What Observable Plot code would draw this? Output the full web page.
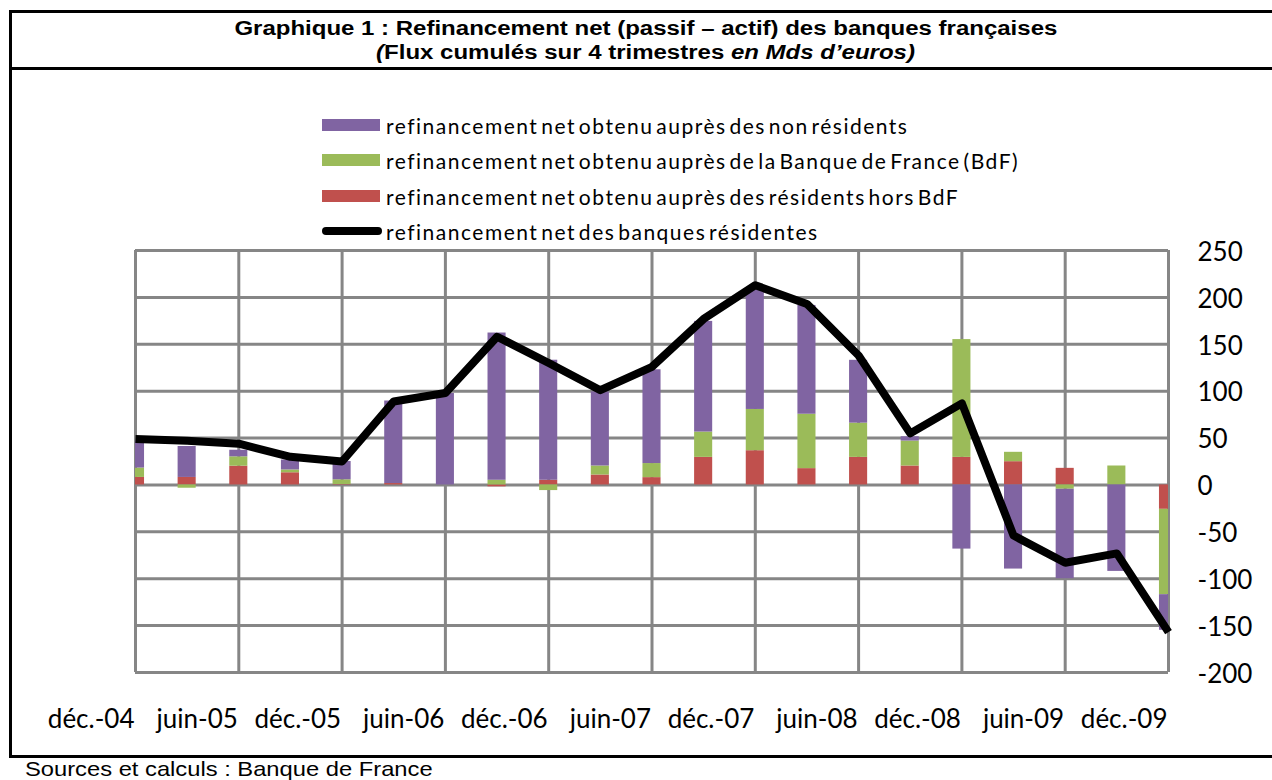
<!DOCTYPE html>
<html><head><meta charset="utf-8">
<script src="https://cdn.jsdelivr.net/npm/d3@7"></script>
<script src="https://cdn.jsdelivr.net/npm/@observablehq/plot@0.6"></script>
<style>
body{margin:0;background:#fff;}
#wrap{position:relative;width:1272px;height:780px;overflow:hidden;background:#fff;}
#plot{position:absolute;left:0;top:0;}
.box{position:absolute;left:9px;top:10px;width:1300px;height:748px;border:3px solid #000;box-sizing:border-box;}
.divider{position:absolute;left:9px;top:67px;width:1300px;height:3px;background:#000;}
.title{position:absolute;left:9px;top:16px;width:1274px;text-align:center;font:bold 20px "Liberation Sans",Arial,sans-serif;line-height:24px;color:#000;}
.title span{display:inline-block;transform:scaleX(1.2);transform-origin:center;white-space:nowrap;}
.caption{position:absolute;left:25px;top:758px;font:21px "Liberation Sans",Arial,sans-serif;line-height:1;color:#000;white-space:nowrap;transform:scaleX(1.13);transform-origin:left;}
.legrow{position:absolute;left:322px;height:30px;display:flex;align-items:center;font:21px Lato,sans-serif;letter-spacing:1.5px;word-spacing:-4px;color:#000;white-space:nowrap;}
.sw{width:58px;height:12px;margin-right:6px;}
.swl{width:60px;height:8px;border-radius:4px;background:#000;margin-right:4px;}
</style></head><body>
<div id="wrap">
  <div id="plot"></div>
  <div class="box"></div>
  <div class="divider"></div>
  <div class="title"><span>Graphique 1 : Refinancement net (passif – actif) des banques françaises</span><br><span><i>(</i>Flux cumulés sur 4 trimestres <i>en Mds d’euros)</i></span></div>
  <div id="legend"></div>
  <div class="caption">Sources et calculs : Banque de France</div>
</div>
<script>
// Quarterly points, déc.-04 … déc.-09
const quarters = ["déc.-04","mars-05","juin-05","sept.-05","déc.-05","mars-06","juin-06","sept.-06","déc.-06","mars-07","juin-07","sept.-07","déc.-07","mars-08","juin-08","sept.-08","déc.-08","mars-09","juin-09","sept.-09","déc.-09"];
const tickLabels = ["déc.-04","juin-05","déc.-05","juin-06","déc.-06","juin-07","déc.-07","juin-08","déc.-08","juin-09","déc.-09"];
const yTicks = [-200,-150,-100,-50,0,50,100,150,200,250];

const seriesNames = [
  "refinancement net obtenu auprès des non résidents",
  "refinancement net obtenu auprès de la Banque de France (BdF)",
  "refinancement net obtenu auprès des résidents hors BdF"
];
const lineName = "refinancement net des banques résidentes";
const seriesColors = ["#8064A2", "#9BBB59", "#C0504D"];

const nonResidents     = [29, 33, 7, 10.6, 19.5, 88, 97.5, 157, 128, 79, 100, 118, 127, 116, 67, 4.6, -68.4, -89.7, -95.4, -92.2, -38];
const banqueDeFrance   = [10, -3.5, 10, 3, 5, 0, 0, 5, -6, 9.6, 15, 27, 44, 58, 36.5, 26.6, 125.6, 10, -4.6, 20.2, -91];
const residentsHorsBdf = [8, 8, 20, 13, 0.5, 1.5, 0, -2, 5, 10.6, 7.8, 29.4, 36.5, 17.4, 29.4, 20.2, 29.4, 24.8, 17.7, 0, -26];
const totalNet         = [49, 47, 44, 30, 25, 89, 98, 158, 130, 101, 126, 177, 213, 193, 138, 55, 87, -54, -83, -73, -157];

const seriesValues = [nonResidents, banqueDeFrance, residentsHorsBdf];
const bars = [];
// stacking order from zero outward: résidents hors BdF, BdF, non résidents
[2, 1, 0].forEach(s => quarters.forEach((q, i) => bars.push({i, q, series: seriesNames[s], value: seriesValues[s][i]})));
const lineData = quarters.map((q, i) => ({i, q, value: totalNet[i]}));
const gridX = tickLabels.map((t, k) => k * 2);

const W = 1272, H = 757;
const font = "Lato, sans-serif";
const chart = Plot.plot({
  width: W, height: H,
  marginLeft: 135, marginRight: 104, marginTop: 250, marginBottom: 85,
  style: {background: "transparent", overflow: "visible"},
  x: {domain: [0, quarters.length - 1], axis: null},
  y: {domain: [-200, 250], axis: null},
  color: {domain: seriesNames, range: seriesColors},
  marks: [
    Plot.ruleY(yTicks, {y: d => d, stroke: "#868686", strokeWidth: 3}),
    Plot.ruleX(gridX, {x: d => d, stroke: "#868686", strokeWidth: 3}),
    Plot.rectY(bars, Plot.stackY({
      x1: d => d.i - 0.175, x2: d => d.i + 0.175,
      y: "value", fill: "series",
      order: [seriesNames[2], seriesNames[1], seriesNames[0]],
      clip: true
    })),
    Plot.line(lineData, {x: "i", y: "value", stroke: "#000", strokeWidth: 8, strokeLinejoin: "round", strokeLinecap: "butt"}),
    Plot.text(yTicks, {y: d => d, text: d => String(d), frameAnchor: "right", dx: 29, dy: 2, textAnchor: "start", fontSize: 26, fontFamily: font, fill: "#000"}),
    Plot.text(gridX, {x: d => d, text: d => tickLabels[d / 2], frameAnchor: "bottom", dy: 55, dx: -1, textAnchor: "end", fontSize: 26, fontFamily: font, fill: "#000"})
  ]
});
document.getElementById("plot").appendChild(chart);

// Legend
const legend = document.getElementById("legend");
const rowsY = [125, 160, 196, 231];
seriesNames.forEach((name, k) => {
  const row = document.createElement("div");
  row.className = "legrow";
  row.style.top = (rowsY[k] - 15) + "px";
  row.innerHTML = `<div class="sw" style="background:${seriesColors[k]}"></div><span>${name}</span>`;
  legend.appendChild(row);
});
const lrow = document.createElement("div");
lrow.className = "legrow";
lrow.style.top = (rowsY[3] - 15) + "px";
lrow.innerHTML = `<div class="swl"></div><span>${lineName}</span>`;
legend.appendChild(lrow);
</script>
</body></html>
